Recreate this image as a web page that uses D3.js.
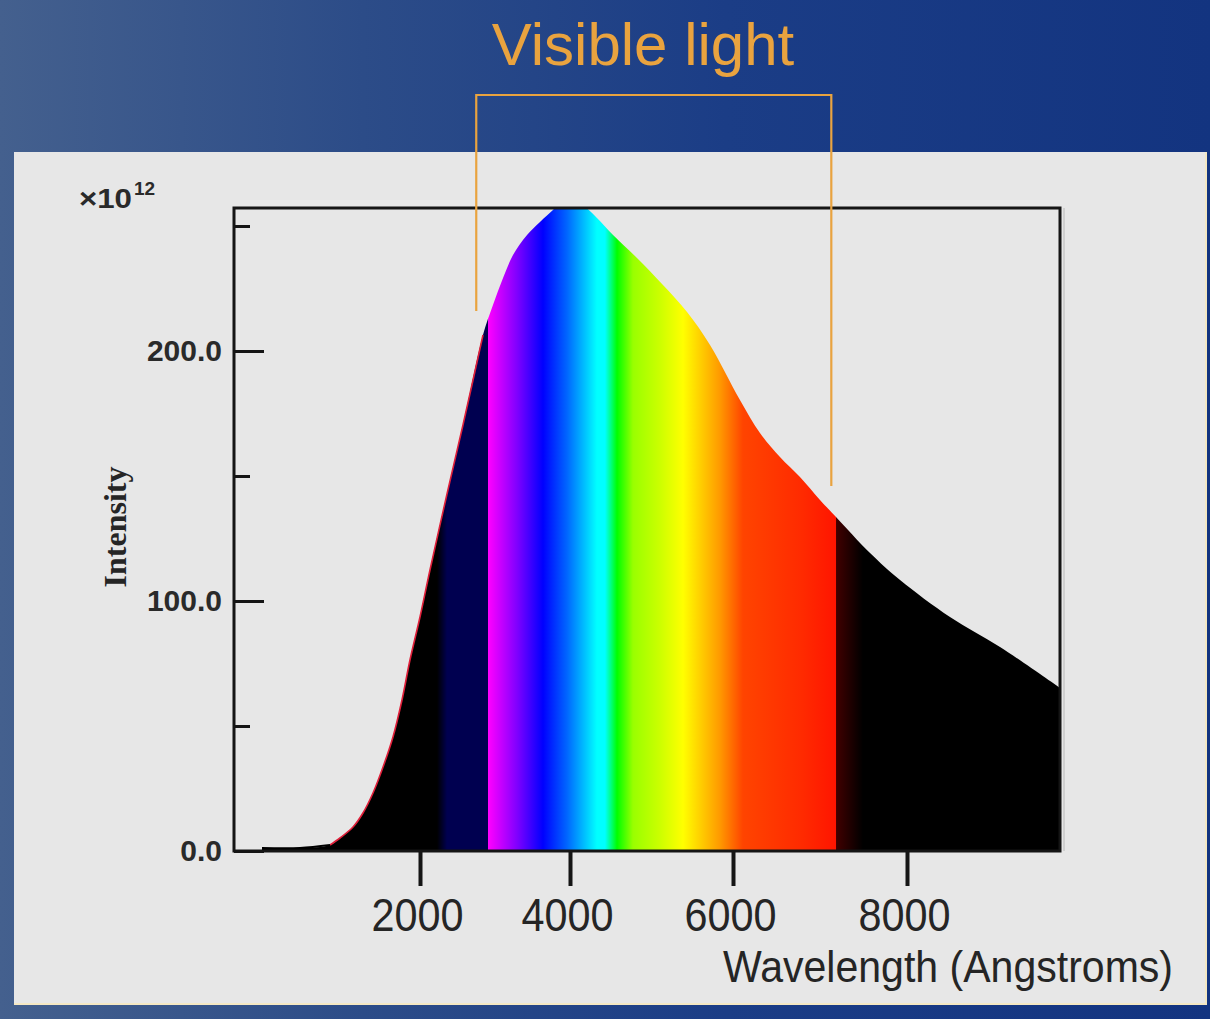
<!DOCTYPE html>
<html>
<head>
<meta charset="utf-8">
<script src="https://cdn.jsdelivr.net/npm/d3@7"></script>
<style>
  html, body { margin: 0; padding: 0; background: #1a3a82; }
  svg { display: block; }
</style>
</head>
<body>
<div id="chart"></div>
<script>
// spectrum curve (wavelength in Angstroms, intensity x10^12)
const wavelengths = [0, 481, 861, 987, 1152, 1278, 1405, 1532, 1658, 1772, 1873, 2000, 2133,
  2360, 2573, 2840, 2973, 3107, 3240, 3427, 3600, 3773, 3867, 4123, 4209, 4331, 4528, 4822,
  5141, 5436, 5718, 6080, 6310, 6540, 6770, 7000, 7184, 7575, 7920, 8483, 9045, 9719]
const intensities = [1.2, 1.2, 2.4, 5.2, 9.6, 15.2, 23.2, 33.6, 45.6, 60.4, 76.4, 93.6, 112.4,
  142.8, 170.4, 206.4, 218.4, 229.2, 238.4, 246.4, 251.6, 256.4, 259, 259, 257, 253.2, 246.4, 237.2,
  226.4, 215.6, 202.4, 180.4, 167.2, 157.6, 149.6, 140.4, 133.6, 119.2, 108.4, 93.6, 81.6, 65.2]

// colour bands of the fill
const bandWavelengths = [0, 2227, 2360, 2900, 2910, 3293, 3640, 3960, 4331, 4429, 4577, 4773,
  5104, 5387, 5840, 6115, 6800, 7180, 7190, 7494, 10000]
const bandColors = ['#000000', '#000000', '#000050', '#000050', '#ff00ff', '#8000ff', '#0000ff',
  '#0066ff', '#00ffff', '#00ffff', '#00ff00', '#99ff00', '#ccff00', '#ffff00', '#ff9900',
  '#ff4400', '#ff2a00', '#ff1500', '#400000', '#000000', '#000000']

const xTicks = [2000, 4000, 6000, 8000]
const yMajorTicks = [0, 100, 200]
const yMinorTicks = [50, 150, 250]
const visibleRange = [2750, 7130]
const bracketEnds = [216, 146]

const W = 1210
const H = 1019
const frame = { left: 234, right: 1060, top: 208, bottom: 851 }
const orange = '#e9a33f'

const svg = d3.select('#chart')
  .append('svg')
  .attr('width', W)
  .attr('height', H)

const defs = svg.append('defs')

const bg = defs.append('linearGradient')
  .attr('id', 'bg')
  .attr('x1', 0).attr('x2', 1).attr('y1', 0).attr('y2', 0)
bg.append('stop').attr('offset', 0).attr('stop-color', '#44608e')
bg.append('stop').attr('offset', 0.3).attr('stop-color', '#2c4c88')
bg.append('stop').attr('offset', 0.6).attr('stop-color', '#1b3d86')
bg.append('stop').attr('offset', 1).attr('stop-color', '#133480')

svg.append('rect')
  .attr('width', W).attr('height', H)
  .attr('fill', 'url(#bg)')

// light panel
svg.append('rect')
  .attr('x', 14).attr('y', 152)
  .attr('width', 1193).attr('height', 853)
  .attr('fill', '#f4e8c4')
svg.append('rect')
  .attr('x', 14).attr('y', 152)
  .attr('width', 1191).attr('height', 851)
  .attr('fill', '#e7e7e7')

// scales - the original axis is not quite even, so piecewise
const x = d3.scaleLinear()
  .domain([0, 2000, 4000, 6000, 8000, 10000])
  .range([262, 420, 570, 733, 907, 1085])

const y = d3.scaleLinear()
  .domain([0, 257.2])
  .range([frame.bottom, frame.top])

const data = wavelengths.map((w, i) => ({ w: w, v: intensities[i] }))

// spectrum gradient
const gx0 = x(bandWavelengths[0])
const gx1 = x(bandWavelengths[bandWavelengths.length - 1])
const spec = defs.append('linearGradient')
  .attr('id', 'spectrum')
  .attr('gradientUnits', 'userSpaceOnUse')
  .attr('x1', gx0).attr('x2', gx1)
  .attr('y1', 0).attr('y2', 0)
spec.selectAll('stop')
  .data(bandWavelengths)
  .enter()
  .append('stop')
  .attr('offset', d => (x(d) - gx0) / (gx1 - gx0))
  .attr('stop-color', (d, i) => bandColors[i])

defs.append('clipPath')
  .attr('id', 'plotclip')
  .append('rect')
  .attr('x', frame.left).attr('y', frame.top)
  .attr('width', frame.right - frame.left)
  .attr('height', frame.bottom - frame.top)

const smooth = d3.curveCatmullRom.alpha(0.5)

const area = d3.area()
  .x(d => x(d.w))
  .y0(y(0))
  .y1(d => y(d.v))
  .curve(smooth)

const plot = svg.append('g').attr('clip-path', 'url(#plotclip)')

plot.append('path')
  .datum(data)
  .attr('d', area)
  .attr('fill', 'url(#spectrum)')

// thin red edge on the rising side
const line = d3.line()
  .x(d => x(d.w))
  .y(d => y(d.v))
  .curve(smooth)

plot.append('path')
  .datum(data.filter(d => d.w >= 861 && d.w <= 2840))
  .attr('d', line)
  .attr('fill', 'none')
  .attr('stroke', '#e0203a')
  .attr('stroke-width', 1.6)

// flat start of the curve
plot.append('path')
  .datum(data.filter(d => d.w <= 861))
  .attr('d', line)
  .attr('fill', 'none')
  .attr('stroke', '#000')
  .attr('stroke-width', 2)

// frame
svg.append('rect')
  .attr('x', frame.left).attr('y', frame.top)
  .attr('width', frame.right - frame.left)
  .attr('height', frame.bottom - frame.top)
  .attr('fill', 'none')
  .attr('stroke', '#151515')
  .attr('stroke-width', 3)

svg.append('line')
  .attr('x1', frame.right + 4).attr('x2', frame.right + 4)
  .attr('y1', frame.top).attr('y2', frame.bottom)
  .attr('stroke', '#b8b8b8')
  .attr('stroke-width', 1)

// y axis
const yAxis = svg.append('g')
  .attr('transform', 'translate(' + frame.left + ',0)')
  .call(d3.axisLeft(y)
    .tickValues(yMajorTicks)
    .tickSize(-30)
    .tickPadding(12)
    .tickFormat(d3.format('.1f')))
yAxis.select('.domain').remove()
yAxis.selectAll('line').attr('stroke', '#151515').attr('stroke-width', 3)
yAxis.selectAll('text')
  .attr('fill', '#2a2a2a')
  .style('font-family', '"Liberation Sans", Arial, sans-serif')
  .style('font-size', '30px')
  .style('font-weight', 'bold')

const yMinor = svg.append('g')
  .attr('transform', 'translate(' + frame.left + ',0)')
  .call(d3.axisLeft(y)
    .tickValues(yMinorTicks)
    .tickSize(-16)
    .tickFormat(''))
yMinor.select('.domain').remove()
yMinor.selectAll('line').attr('stroke', '#151515').attr('stroke-width', 3)

// x axis
const xAxis = svg.append('g')
  .attr('transform', 'translate(0,' + frame.bottom + ')')
  .call(d3.axisBottom(x)
    .tickValues(xTicks)
    .tickSize(35)
    .tickPadding(12)
    .tickFormat(d3.format('d')))
xAxis.select('.domain').remove()
xAxis.selectAll('line').attr('stroke', '#151515').attr('stroke-width', 4)
xAxis.selectAll('text')
  .attr('fill', '#252525')
  .attr('dx', -3)
  .attr('textLength', 92)
  .attr('lengthAdjust', 'spacingAndGlyphs')
  .style('font-family', '"Liberation Sans", Arial, sans-serif')
  .style('font-size', '46px')

svg.append('text')
  .attr('x', 1173).attr('y', 982)
  .attr('text-anchor', 'end')
  .attr('fill', '#252525')
  .attr('textLength', 450)
  .attr('lengthAdjust', 'spacingAndGlyphs')
  .style('font-family', '"Liberation Sans", Arial, sans-serif')
  .style('font-size', '44px')
  .text('Wavelength (Angstroms)')

svg.append('text')
  .attr('transform', 'translate(126,527) rotate(-90)')
  .attr('text-anchor', 'middle')
  .attr('fill', '#252525')
  .style('font-family', '"Liberation Serif", "Times New Roman", serif')
  .style('font-size', '32px')
  .style('font-weight', 'bold')
  .text('Intensity')

const expo = svg.append('text')
  .attr('x', 79).attr('y', 208)
  .attr('fill', '#2a2a2a')
  .style('font-family', '"Liberation Sans", Arial, sans-serif')
  .style('font-weight', 'bold')
expo.append('tspan')
  .attr('textLength', 53)
  .attr('lengthAdjust', 'spacingAndGlyphs')
  .style('font-size', '27px')
  .text('\u00d710')
expo.append('tspan').attr('dx', 2).attr('dy', -13).style('font-size', '19px').text('12')

// title and bracket
svg.append('text')
  .attr('x', 643).attr('y', 65)
  .attr('text-anchor', 'middle')
  .attr('fill', orange)
  .style('font-family', '"Liberation Sans", Arial, sans-serif')
  .style('font-size', '60px')
  .text('Visible light')

const bracketY = 95
svg.append('path')
  .attr('d', d3.line()([
    [x(visibleRange[0]), y(bracketEnds[0])],
    [x(visibleRange[0]), bracketY],
    [x(visibleRange[1]), bracketY],
    [x(visibleRange[1]), y(bracketEnds[1])]
  ]))
  .attr('fill', 'none')
  .attr('stroke', orange)
  .attr('stroke-width', 2.2)
</script>
</body>
</html>
